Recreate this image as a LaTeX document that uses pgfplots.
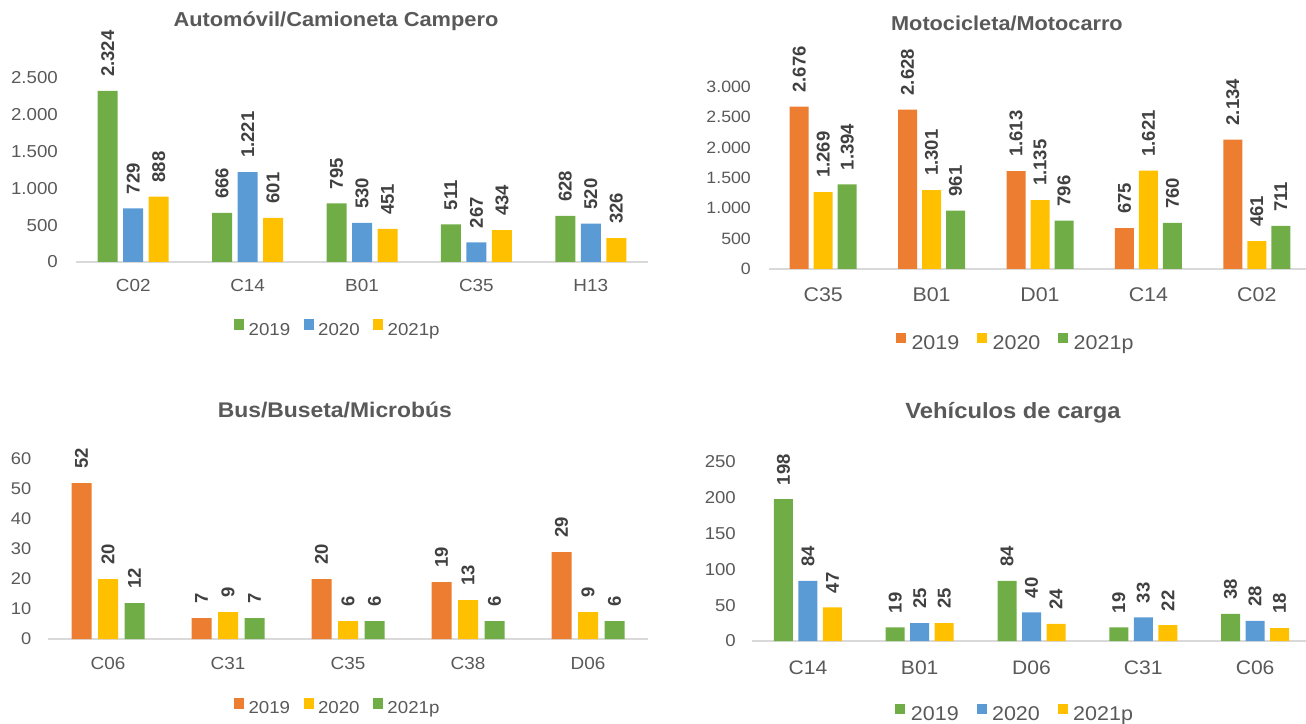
\documentclass[border=0pt]{standalone}
\usepackage{graphicx}
\usepackage{pgfplots}
\pgfplotsset{compat=1.18}
\usepackage{fontspec}
\setmainfont[FakeStretch=1.08]{Liberation Sans}
\newfontfamily\labfont{Liberation Sans}
\definecolor{cOr}{HTML}{ED7D31}
\definecolor{cBl}{HTML}{5B9BD5}
\definecolor{cYe}{HTML}{FFC000}
\definecolor{cGr}{HTML}{70AD47}
\definecolor{tickc}{HTML}{595959}
\definecolor{labc}{HTML}{404040}
\definecolor{axc}{HTML}{D9D9D9}
\newcommand{\fs}[1]{\fontsize{#1}{#1}\selectfont}
\pgfkeys{/pgf/number format/.cd, 1000 sep={.}, assume math mode=true}
\pgfplotsset{
  sqlegend/.style={legend image code/.code={\fill[##1] (0pt,0pt) rectangle (10pt,10.5pt);}},
  panel/.style={
    scale only axis,
    ymin=0,
    xmin=-0.5, xmax=4.5,
    enlarge x limits=false,
    xtick={0,1,2,3,4},
    axis x line*=bottom,
    axis y line*=left,
    y axis line style={draw=none},
    x axis line style={draw=axc, line width=1.4pt, -},
    tick style={draw=none},
    major tick length=0pt,
    scaled y ticks=false,
    yticklabel style={anchor=east, inner sep=0pt, text=tickc},
    xticklabel style={anchor=base, inner sep=0pt, text=tickc},
    nodes near coords={\rotatebox{90}{\pgfmathprintnumber{\pgfplotspointmeta}}},
    nodes near coords style={anchor=south, inner xsep=0pt, inner ysep=14pt,
      font=\labfont\bfseries\fs{18.5}, text=labc},
    every axis plot post/.append style={sqlegend},
    legend style={draw=none, fill=none, inner sep=0pt, legend columns=-1,
      text=tickc, anchor=center},
    title style={anchor=base, inner sep=0pt, text=tickc},
    clip=false,
  },
  smalllegend/.style={legend style={font=\fs{17.3},
      nodes={inner xsep=4.3pt, inner ysep=0pt},
      /tikz/every even column/.append style={column sep=9.3pt}}},
  biglegend/.style={legend style={font=\fs{19.9},
      nodes={inner xsep=5.5pt, inner ysep=0pt},
      /tikz/every even column/.append style={column sep=12.3pt}}},
}
\begin{document}
\begin{tikzpicture}

% Panel 1
\begin{axis}[panel, smalllegend,
  at={(76pt,461pt)}, anchor=south west, width=572pt, height=184pt,
  ymax=2500, ytick={0,500,...,2500},
  ybar=5.5pt, bar width=20pt, sqlegend,
  xticklabels={C02,C14,B01,C35,H13},
  yticklabel style={font=\fs{17.3}, xshift=-18pt},
  xticklabel style={font=\fs{17.5}, yshift=-29.5pt},
  title={\bfseries Automóvil/Camioneta Campero},
  title style={font=\fs{20.2}, at={(0.4545,1.2446)}},
  legend style={at={(0.46,-0.3587)}},
]
\addplot[fill=cGr, draw=none] coordinates {(0,2324) (1,666) (2,795) (3,511) (4,628)};
\addplot[fill=cBl, draw=none] coordinates {(0,729) (1,1221) (2,530) (3,267) (4,520)};
\addplot[fill=cYe, draw=none] coordinates {(0,888) (1,601) (2,451) (3,434) (4,326)};
\legend{2019,2020,2021p}
\end{axis}

% Panel 2
\begin{axis}[panel, biglegend,
  at={(769pt,454pt)}, anchor=south west, width=542pt, height=182pt,
  ymax=3000, ytick={0,500,...,3000},
  ybar=5pt, bar width=19pt, sqlegend,
  xticklabels={C35,B01,D01,C14,C02},
  yticklabel style={font=\fs{16.4}, xshift=-18pt},
  xticklabel style={font=\fs{19.8}, yshift=-32.2pt},
  title={\bfseries Motocicleta/Motocarro},
  title style={font=\fs{20.1}, at={(0.439,1.277)}},
  legend style={at={(0.4585,-0.401)}},
]
\addplot[fill=cOr, draw=none] coordinates {(0,2676) (1,2628) (2,1613) (3,675) (4,2134)};
\addplot[fill=cYe, draw=none] coordinates {(0,1269) (1,1301) (2,1135) (3,1621) (4,461)};
\addplot[fill=cGr, draw=none] coordinates {(0,1394) (1,961) (2,796) (3,760) (4,711)};
\legend{2019,2020,2021p}
\end{axis}

% Panel 3
\begin{axis}[panel, smalllegend,
  at={(48pt,84pt)}, anchor=south west, width=600pt, height=180pt,
  ymax=60, ytick={0,10,...,60},
  ybar=6.5pt, bar width=20pt, sqlegend,
  xticklabels={C06,C31,C35,C38,D06},
  yticklabel style={font=\fs{16.9}, xshift=-16.5pt},
  xticklabel style={font=\fs{17.5}, yshift=-30.3pt},
  title={\bfseries Bus/Buseta/Microbús},
  title style={font=\fs{21.2}, at={(0.478,1.197)}},
  legend style={at={(0.485,-0.376)}},
]
\addplot[fill=cOr, draw=none] coordinates {(0,52) (1,7) (2,20) (3,19) (4,29)};
\addplot[fill=cYe, draw=none] coordinates {(0,20) (1,9) (2,6) (3,13) (4,9)};
\addplot[fill=cGr, draw=none] coordinates {(0,12) (1,7) (2,6) (3,6) (4,6)};
\legend{2019,2020,2021p}
\end{axis}

% Panel 4
\begin{axis}[panel, biglegend,
  at={(752pt,82pt)}, anchor=south west, width=559pt, height=179pt,
  ymax=250, ytick={0,50,...,250},
  ybar=5.5pt, bar width=19pt, sqlegend,
  xticklabels={C14,B01,D06,C31,C06},
  yticklabel style={font=\fs{17.2}, xshift=-16pt},
  xticklabel style={font=\fs{19.5}, yshift=-33pt},
  title={\bfseries Vehículos de carga},
  title style={font=\fs{22}, at={(0.467,1.212)}},
  legend style={at={(0.474,-0.4)}},
]
\addplot[fill=cGr, draw=none] coordinates {(0,198) (1,19) (2,84) (3,19) (4,38)};
\addplot[fill=cBl, draw=none] coordinates {(0,84) (1,25) (2,40) (3,33) (4,28)};
\addplot[fill=cYe, draw=none] coordinates {(0,47) (1,25) (2,24) (3,22) (4,18)};
\legend{2019,2020,2021p}
\end{axis}

\pgfresetboundingbox
\path[use as bounding box] (0pt,0pt) rectangle (1306pt,723pt);
\end{tikzpicture}
\end{document}
